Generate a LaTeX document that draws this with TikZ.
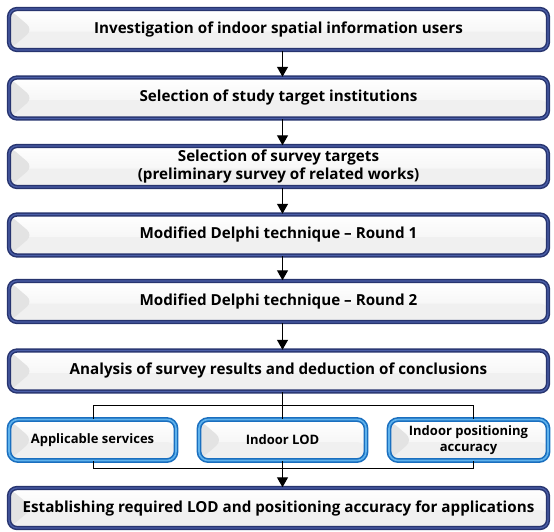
\documentclass[tikz,border=0pt]{standalone}
\usepackage{fontspec}
\setmainfont{Open Sans}
\usetikzlibrary{arrows.meta,calc}
\definecolor{navyb}{HTML}{27346F}
\definecolor{navyi}{HTML}{4B5FA8}
\definecolor{blueb}{HTML}{1A6FBF}
\definecolor{bluei}{HTML}{5FB2EC}
\tikzset{
  bevel/.style={path picture={
      \fill[black!6] ([yshift=-2pt]path picture bounding box.west) rectangle ([yshift=2pt]path picture bounding box.south east);
      \fill[black!11] (path picture bounding box.north west) -- ([xshift=24pt]path picture bounding box.west) -- (path picture bounding box.south west) -- cycle;
  }},
  mainbox/.style={draw=navyb, double=navyi, line width=1.5pt, double distance=1.3pt,
      rounded corners=8pt, top color=white, bottom color=black!6, bevel,
      minimum width=539pt, minimum height=41pt, inner sep=0pt, align=center,
      font=\bfseries\fontsize{15.2}{18.5}\selectfont},
  subbox/.style={draw=blueb, double=bluei, line width=1.6pt, double distance=1.6pt,
      rounded corners=9pt, top color=white, bottom color=black!6, bevel,
      minimum height=41pt, inner sep=0pt, align=center,
      font=\bfseries\fontsize{13}{16}\selectfont},
  arr/.style={line width=1.3pt, -{Triangle[width=11pt,length=10pt]}},
  thin/.style={line width=0.8pt},
}
\begin{document}
\begin{tikzpicture}[x=1pt,y=-1pt]
\useasboundingbox (0,0) rectangle (554,531);
\node[mainbox] (b1) at (278.5,29.5) {Investigation of indoor spatial information users};
\node[mainbox] (b2) at (278.5,98) {Selection of study target institutions};
\node[mainbox] (b3) at (278.5,166.5) {Selection of survey targets\\(preliminary survey of related works)};
\node[mainbox] (b4) at (278.5,235) {Modified Delphi technique -- Round 1};
\node[mainbox] (b5) at (278.5,301.5) {Modified Delphi technique -- Round 2};
\node[mainbox] (b6) at (278.5,371) {Analysis of survey results and deduction of conclusions};
\node[subbox, minimum width=167pt] (sa) at (92.5,440) {Applicable services};
\node[subbox, minimum width=167pt] (sb) at (282.5,440) {Indoor LOD};
\node[subbox, minimum width=159pt] (sc) at (468.5,440) {Indoor positioning\\accuracy};
\node[mainbox, minimum height=40pt] (b7) at (278.5,508) {Establishing required LOD and positioning accuracy for applications};
\coordinate (ax) at (282.5,0);
\coordinate (lx) at (93,0);
\coordinate (rx) at (473,0);
\coordinate (ty) at (0,405);
\coordinate (by) at (0,468);
\draw[arr] (b1.south -| ax) -- (b2.north -| ax);
\draw[arr] (b2.south -| ax) -- (b3.north -| ax);
\draw[arr] (b3.south -| ax) -- (b4.north -| ax);
\draw[arr] (b4.south -| ax) -- (b5.north -| ax);
\draw[arr] (b5.south -| ax) -- (b6.north -| ax);
\draw[thin] (b6.south -| ax) -- (sb.north);
\draw[thin] (sa.north -| lx) -- (lx |- ty) -- (rx |- ty) -- (sc.north -| rx);
\draw[thin] (sa.south -| lx) -- (lx |- by) -- (rx |- by) -- (sc.south -| rx);
\draw[arr] (sb.south) -- (b7.north -| ax);
\end{tikzpicture}
\end{document}
